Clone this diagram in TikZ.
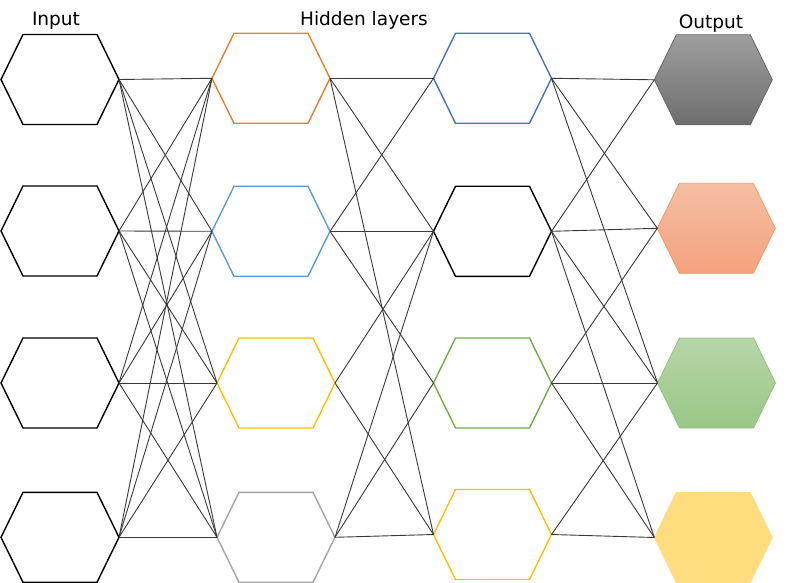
\documentclass[tikz,border=0pt]{standalone}
\usepackage{fontspec}
\setmainfont{DejaVu Sans}
\definecolor{cOrange}{HTML}{ED7D31}
\definecolor{cBlueA}{HTML}{4472C4}
\definecolor{cBlueB}{HTML}{5B9BD5}
\definecolor{cYellow}{HTML}{FFC000}
\definecolor{cGray}{HTML}{A5A5A5}
\definecolor{cGreen}{HTML}{70AD47}
\definecolor{oGrayT}{HTML}{9E9E9E}
\definecolor{oGrayB}{HTML}{6E6E6E}
\definecolor{oGrayL}{HTML}{646464}
\definecolor{oOrT}{HTML}{F5BEA3}
\definecolor{oOrB}{HTML}{F4A27D}
\definecolor{oOrL}{HTML}{F29A68}
\definecolor{oGrT}{HTML}{B6D6A8}
\definecolor{oGrB}{HTML}{99C786}
\definecolor{oGrL}{HTML}{93C47D}
\definecolor{oYe}{HTML}{FFDC7E}
\newcommand\hexa[4]{%
  \draw[#4] (#2-59,#3) -- (#2-37,#3-45) -- (#2+37,#3-45) -- (#2+59,#3) -- (#2+37,#3+45) -- (#2-37,#3+45) -- cycle;
  \coordinate (#1l) at (#2-59,#3);
  \coordinate (#1r) at (#2+59,#3);}
\tikzset{
  hexline/.style={line width=1.4bp, line join=miter},
  link/.style={line width=0.9bp, black!78},
  title/.style={anchor=base, font=\fontsize{18.6}{20}\selectfont, inner sep=0pt}
}
\begin{document}
\begin{tikzpicture}[x=1bp,y=-1bp]
\useasboundingbox (0,0) rectangle (791,583);
% input layer
\hexa{a1}{60}{79.5}{hexline,black}
\hexa{a2}{60}{231}{hexline,black}
\hexa{a3}{60}{383}{hexline,black}
\hexa{a4}{60}{537.3}{hexline,black}
% hidden layer 1
\hexa{b1}{271}{78.3}{hexline,cOrange}
\hexa{b2}{271}{231.3}{hexline,cBlueB}
\hexa{b3}{276}{383}{hexline,cYellow}
\hexa{b4}{276}{537.3}{hexline,cGray}
% hidden layer 2
\hexa{c1}{492.5}{78.3}{hexline,cBlueA}
\hexa{c2}{492.5}{231.3}{hexline,black}
\hexa{c3}{492.5}{383}{hexline,cGreen}
\hexa{c4}{492.5}{534.5}{hexline,cYellow}
% output layer
\hexa{d1}{713.3}{79.8}{line width=0.8bp,draw=oGrayL,top color=oGrayT,bottom color=oGrayB}
\hexa{d2}{716.3}{228.3}{line width=0.8bp,draw=oOrL,top color=oOrT,bottom color=oOrB}
\hexa{d3}{716.5}{383}{line width=0.8bp,draw=oGrL,top color=oGrT,bottom color=oGrB}
\hexa{d4}{713.3}{537.5}{line width=0.8bp,draw=oYe,fill=oYe}
% input -> hidden 1 (all)
\foreach \i in {1,2,3,4}{
  \foreach \j in {1,2,3,4}{
    \draw[link] (a\i r) -- (b\j l);
  }
}
% hidden 1 -> hidden 2
\foreach \s/\t in {b1/c1,b1/c2,b1/c4,b2/c1,b2/c2,b2/c3,b3/c2,b3/c4,b4/c2,b4/c3,b4/c4}{
  \draw[link] (\s r) -- (\t l);
}
% hidden 2 -> output
\foreach \s/\t in {c1/d1,c1/d2,c1/d3,c2/d1,c2/d2,c2/d3,c2/d4,c3/d2,c3/d3,c3/d4,c4/d3,c4/d4}{
  \draw[link] (\s r) -- (\t l);
}
% titles
\node[title] (tin) at (56,26) {Input};
\node[title] (thid) at (364,26) {Hidden layers};
\node[title] (tout) at (711,28.5) {Output};
\end{tikzpicture}
\end{document}
